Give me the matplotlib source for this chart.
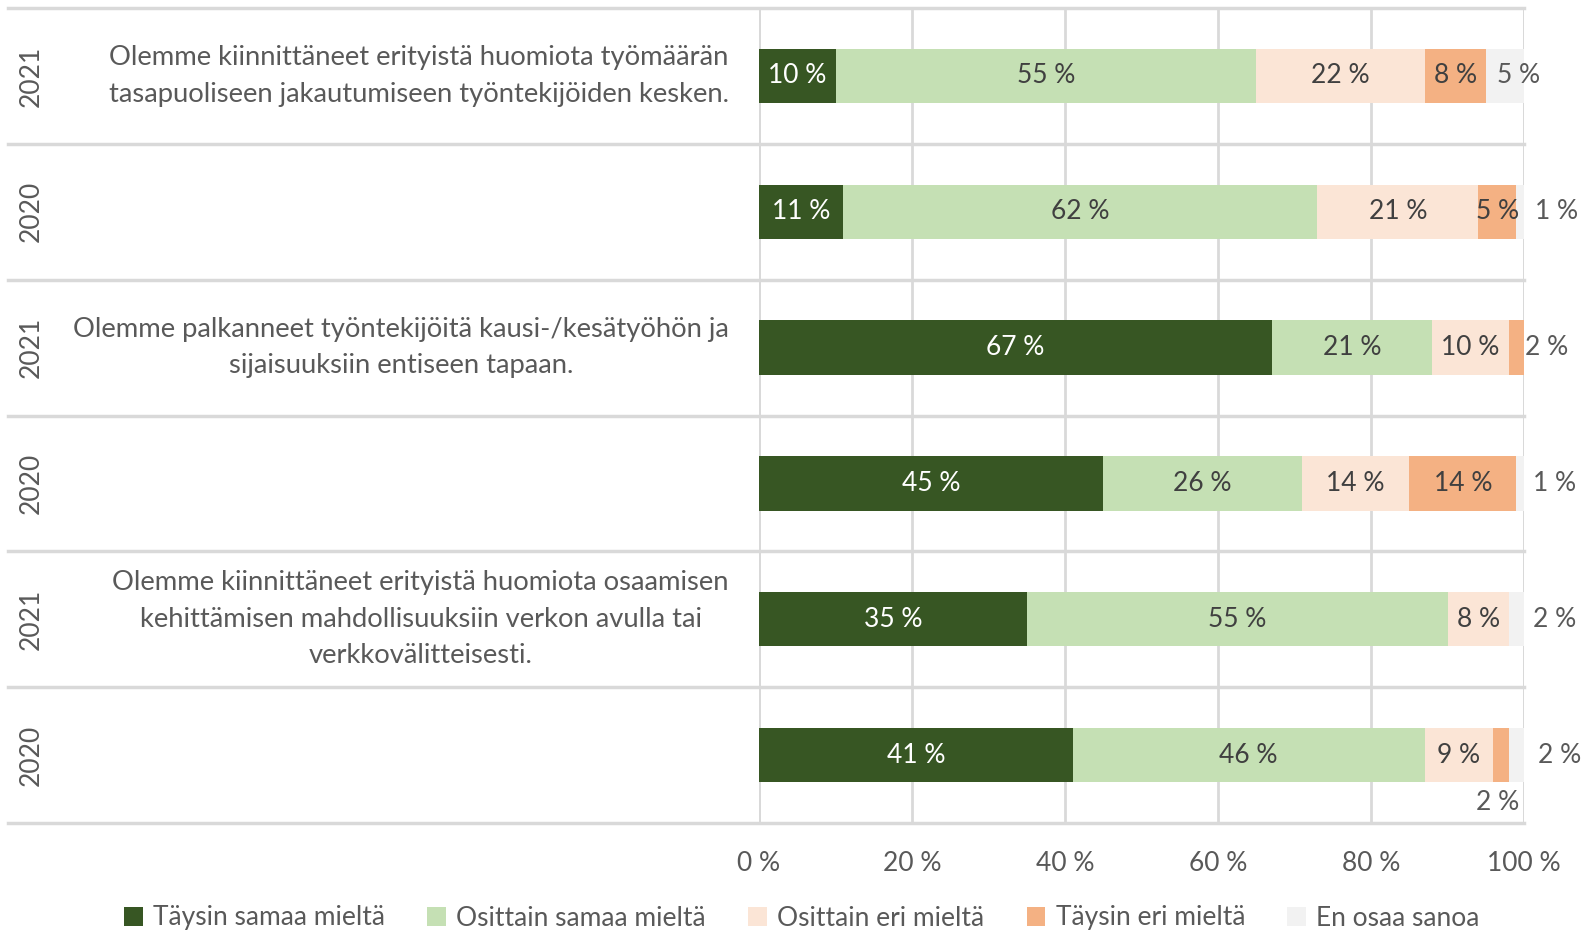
import matplotlib.pyplot as plt
from matplotlib.lines import Line2D

plt.rcParams["font.family"] = ["Lato", "DejaVu Sans"]

# data, rows from top to bottom
years = ["2021", "2020", "2021", "2020", "2021", "2020"]
questions = [
    "Olemme kiinnittäneet erityistä huomiota työmäärän\ntasapuoliseen jakautumiseen työntekijöiden kesken.",
    "",
    "Olemme palkanneet työntekijöitä kausi-/kesätyöhön ja\nsijaisuuksiin entiseen tapaan.",
    "",
    "Olemme kiinnittäneet erityistä huomiota osaamisen\nkehittämisen mahdollisuuksiin verkon avulla tai\nverkkovälitteisesti.",
    "",
]
series = ["Täysin samaa mieltä", "Osittain samaa mieltä", "Osittain eri mieltä",
          "Täysin eri mieltä", "En osaa sanoa"]
taysin_samaa = [10, 11, 67, 45, 35, 41]
osittain_samaa = [55, 62, 21, 26, 55, 46]
osittain_eri = [22, 21, 10, 14, 8, 9]
taysin_eri = [8, 5, 2, 14, 0, 2]
en_osaa = [5, 1, 0, 1, 2, 2]
values = [taysin_samaa, osittain_samaa, osittain_eri, taysin_eri, en_osaa]
ticks = [0, 20, 40, 60, 80, 100]

colors = ["#375623", "#C5E0B4", "#FBE5D6", "#F4B183", "#F2F2F2"]
txt_colors = ["white", "#404040", "#404040", "#404040", "#404040"]
grid_c = "#D9D9D9"
gray = "#595959"
fs = 19

# small segments whose label sits outside: (row, series) -> (dx px, dy px, anchor)
outside = {
    (0, 4): (14, 0, "center"),
    (1, 4): (11, 0, "left"),
    (2, 3): (1, 0, "left"),
    (3, 4): (9, 0, "left"),
    (4, 4): (9, 0, "left"),
    (5, 4): (14, 0, "left"),
    (5, 3): (-3, -47, "center"),
}

W, H = 1591, 932
L, R, T, B = 759, 1524, 8, 823
fig = plt.figure(figsize=(W / 100, H / 100), dpi=100)
ax = fig.add_axes([L / W, 1 - B / H, (R - L) / W, (B - T) / H])

rows = list(range(len(years)))
left = [0] * len(rows)
for j, vals in enumerate(values):
    ax.barh(rows, vals, left=left, height=0.4, color=colors[j], label=series[j], zorder=3)
    for i in rows:
        v = vals[i]
        if v == 0:
            continue
        key = (i, j)
        if key in outside:
            dx, dy, anc = outside[key]
            x = left[i] + v if anc == "left" else left[i] + v / 2
            ax.annotate(f"{v} %", (x, i), xytext=(dx, dy), textcoords="offset pixels",
                        ha=anc, va="center", fontsize=fs, color=gray,
                        annotation_clip=False, zorder=4)
        else:
            ax.text(left[i] + v / 2, i, f"{v} %", ha="center", va="center",
                    fontsize=fs, color=txt_colors[j], zorder=4)
    left = [left[i] + vals[i] for i in rows]

ax.set_xlim(0, 100)
ax.set_ylim(len(rows) - 0.5, -0.5)
ax.set_xticks(ticks)
ax.set_xticklabels([f"{t} %" for t in ticks], fontsize=fs, color=gray)
ax.tick_params(axis="x", length=0, pad=20)
ax.set_yticks([])
for s in ax.spines.values():
    s.set_visible(False)
ax.grid(axis="x", color=grid_c, linewidth=2, zorder=0)

# row separators running across the label area too
x0 = (8 - L) / (R - L)
for k in range(len(rows) + 1):
    y = k - 0.5
    ax.add_line(Line2D([x0, 1], [y, y], transform=ax.get_yaxis_transform(),
                       color=grid_c, linewidth=2.5, clip_on=False, zorder=1))
ax.axvline(0, color=grid_c, linewidth=2, zorder=1)
ax.axvline(100, color=grid_c, linewidth=2, zorder=1)

# year labels and question texts
yx = (31 - L) / (R - L)
qx = (729 - L) / (R - L)
for i in rows:
    ax.text(yx, i, years[i], transform=ax.get_yaxis_transform(), rotation=90,
            ha="center", va="center", fontsize=fs, color=gray)
    if questions[i]:
        ax.text(qx, i, questions[i], transform=ax.get_yaxis_transform(),
                ha="right", va="center", multialignment="center",
                fontsize=19.7, color=gray, linespacing=1.58)

fig.legend(loc="center", bbox_to_anchor=(802 / W, 1 - 918 / H), ncol=5,
           frameon=False, fontsize=fs, labelcolor=gray, handlelength=0.7,
           handleheight=0.7, handletextpad=0.4, columnspacing=1.6)

fig.savefig("out.png")
